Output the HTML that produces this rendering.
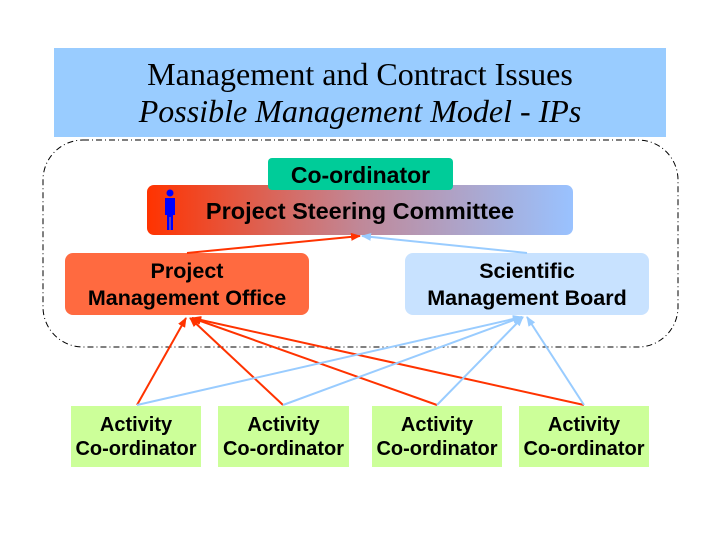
<!DOCTYPE html>
<html><head><style>
body{margin:0;width:720px;height:540px;background:#fff;position:relative;font-family:"Liberation Sans",sans-serif;overflow:hidden}
.b{position:absolute;box-sizing:border-box;text-align:center;font-weight:bold;color:#000;white-space:nowrap}
</style></head><body>
<div class="b" style="left:54px;top:48px;width:612px;height:89px;background:#99ccff;font-family:'Liberation Serif',serif;font-weight:normal;font-size:32px;line-height:37px;padding-top:8px">Management and Contract Issues<br><i>Possible Management Model - IPs</i></div>
<svg style="position:absolute;left:0;top:0" width="720" height="540">
<rect x="43" y="140" width="635" height="207" rx="40" fill="none" stroke="#000" stroke-width="1" stroke-dasharray="6,3,1,3"/>
</svg>
<div class="b" style="left:147px;top:185px;width:426px;height:50px;border-radius:7px;background:linear-gradient(90deg,#ff3300,#c08898 50%,#99c2ff);font-size:23.5px;line-height:52px;padding-left:0px">Project Steering Committee</div>
<svg style="position:absolute;left:162px;top:189px" width="16" height="42"><circle cx="8" cy="4" r="3.5" fill="#0000ff"/><rect x="3" y="9" width="10" height="17" fill="#0000ff"/><rect x="5" y="24" width="6" height="17" fill="#0000ff"/><rect x="7.5" y="28" width="1" height="13" fill="#c08070"/></svg>
<div class="b" style="left:268px;top:158px;width:185px;height:32px;border-radius:4px;background:#00cc99;font-size:23px;line-height:34px">Co-ordinator</div>
<div class="b" style="left:65px;top:253px;width:244px;height:62px;border-radius:8px;background:#ff6a40;font-size:21.5px;line-height:27px;padding-top:5px">Project<br>Management Office</div>
<div class="b" style="left:405px;top:253px;width:244px;height:62px;border-radius:8px;background:#c8e2ff;font-size:21.5px;line-height:27px;padding-top:5px">Scientific<br>Management Board</div>
<div class="b" style="left:71px;top:406px;width:130px;height:61px;background:#ccff99;font-size:20px;line-height:24px;padding-top:7px">Activity<br>Co-ordinator</div>
<div class="b" style="left:218px;top:406px;width:131px;height:61px;background:#ccff99;font-size:20px;line-height:24px;padding-top:7px">Activity<br>Co-ordinator</div>
<div class="b" style="left:372px;top:406px;width:130px;height:61px;background:#ccff99;font-size:20px;line-height:24px;padding-top:7px">Activity<br>Co-ordinator</div>
<div class="b" style="left:519px;top:406px;width:130px;height:61px;background:#ccff99;font-size:20px;line-height:24px;padding-top:7px">Activity<br>Co-ordinator</div>
<svg style="position:absolute;left:0;top:0" width="720" height="540">
<defs>
<marker id="r" markerWidth="10" markerHeight="8" refX="9" refY="4" orient="auto" markerUnits="userSpaceOnUse"><path d="M0,0L10,4L0,8z" fill="#ff3300"/></marker>
<marker id="l" markerWidth="10" markerHeight="8" refX="9" refY="4" orient="auto" markerUnits="userSpaceOnUse"><path d="M0,0L10,4L0,8z" fill="#99ccff"/></marker>
</defs>
<g stroke="#ff3300" stroke-width="2" fill="none">
<line x1="187" y1="253" x2="360" y2="236" marker-end="url(#r)"/>
<line x1="137" y1="405" x2="186" y2="318" marker-end="url(#r)"/>
<line x1="283" y1="405" x2="190" y2="318" marker-end="url(#r)"/>
<line x1="437" y1="405" x2="192" y2="318" marker-end="url(#r)"/>
<line x1="584" y1="405" x2="192" y2="318" marker-end="url(#r)"/>
</g>
<g stroke="#99ccff" stroke-width="2" fill="none">
<line x1="527" y1="253" x2="362" y2="236" marker-end="url(#l)"/>
<line x1="137" y1="405" x2="522" y2="317" marker-end="url(#l)"/>
<line x1="283" y1="405" x2="522" y2="317" marker-end="url(#l)"/>
<line x1="437" y1="405" x2="523" y2="317" marker-end="url(#l)"/>
<line x1="584" y1="405" x2="527" y2="317" marker-end="url(#l)"/>
</g>
</svg>
</body></html>
